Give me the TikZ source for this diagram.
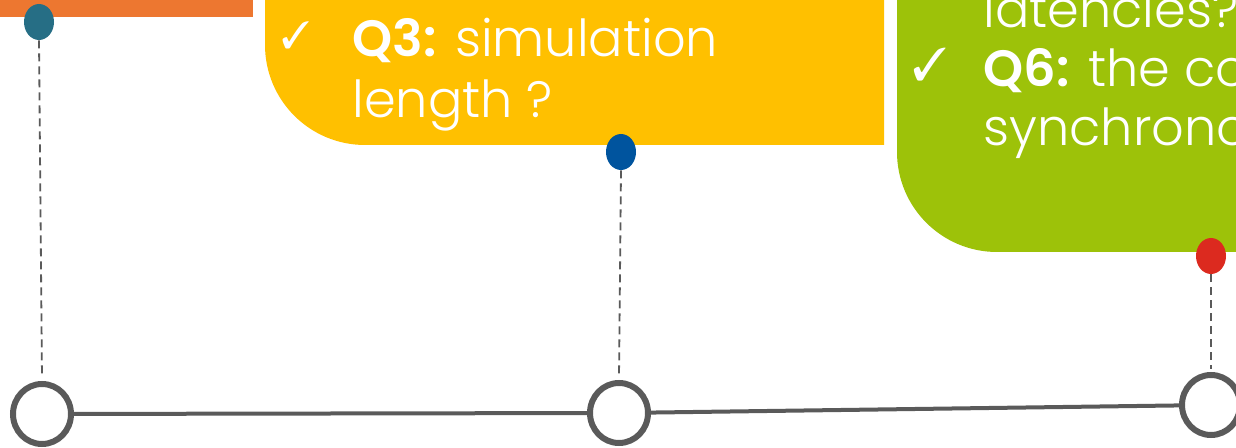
\documentclass[tikz,border=0pt]{standalone}
\usepackage{fontspec}
\setmainfont{Poppins}[UprightFont={* Light}, BoldFont={* SemiBold}]
\usepackage{pifont}
\usepackage{xcolor}
\definecolor{barorange}{HTML}{ED7730}
\definecolor{boxyellow}{HTML}{FFC000}
\definecolor{boxgreen}{HTML}{9DC209}
\definecolor{dotteal}{HTML}{266E85}
\definecolor{dotblue}{HTML}{00549E}
\definecolor{dotred}{HTML}{DC2A1F}
\definecolor{linegray}{HTML}{5A5A5A}
\usepackage{tikz}
\usetikzlibrary{shapes.geometric, positioning, calc}

\tikzset{
  milestone/.style={ellipse, draw=linegray, line width=3pt, fill=white, minimum width=29pt, minimum height=30pt, inner sep=0pt},
  pin/.style={ellipse, minimum width=15pt, minimum height=18pt, inner sep=0pt},
  stem/.style={draw=linegray, line width=0.9pt, dash pattern=on 4pt off 2.5pt},
  axis/.style={draw=linegray, line width=2pt},
  qtext/.style={text=white, font=\fontsize{25.5}{30}\selectfont, inner sep=0pt, anchor=base west},
  tick/.style={text=white, inner sep=0pt, anchor=base west}
}

\begin{document}
\begin{tikzpicture}[x=0.5pt, y=-0.5pt]
  \useasboundingbox (0,0) rectangle (1236,448);
  \clip (0,0) rectangle (1236,448);
  % boxes
  \fill[barorange] (-20,-20) rectangle (253,17);
  \fill[boxyellow] (265,-20) -- (265,45) arc[start angle=180, end angle=90, radius=100] -- (884,145) -- (884,-20) -- cycle;
  \fill[boxgreen] (897,-20) -- (897,152) arc[start angle=180, end angle=90, radius=100] -- (1260,252) -- (1260,-20) -- cycle;
  % texts
  \node[tick, font=\fontsize{19}{22}\selectfont] (chk3) at (281,49) {\ding{51}};
  \node[qtext] (q3a) at (352,57) {\textbf{Q3:} simulation};
  \node[qtext] (q3b) at (352,118) {length ?};
  \node[qtext] (q5b) at (983,28) {latencies?};
  \node[tick, font=\fontsize{23}{26}\selectfont] (chk6) at (912,81) {\ding{51}};
  \node[qtext] (q6a) at (983,87) {\textbf{Q6:} the co};
  \node[qtext] (q6b) at (983,146) {synchrono};
  % timeline
  \node[milestone] (m1) at (42,414) {};
  \node[milestone] (m2) at (619,413) {};
  \node[milestone] (m3) at (1211,405) {};
  \draw[axis] (m1) -- (m2);
  \draw[axis] (m2) -- (m3);
  % pins
  \node[pin, fill=dotteal] (p1) at (39,22) {};
  \node[pin, fill=dotblue] (p2) at (621,152) {};
  \node[pin, fill=dotred] (p3) at (1211,256) {};
  \draw[stem] (p1.south) -- ($(m1.north)+(0,-3)$);
  \draw[stem] (p2.south) -- ($(m2.north)+(0,-3)$);
  \draw[stem] (p3.south) -- ($(m3.north)+(0,-3)$);
\end{tikzpicture}
\end{document}
